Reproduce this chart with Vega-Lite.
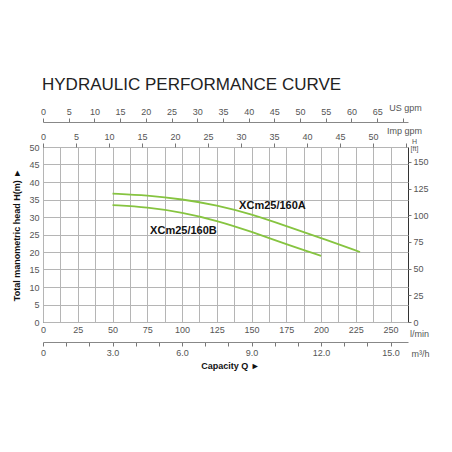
{
  "$schema": "https://vega.github.io/schema/vega-lite/v6.json",
  "width": 365,
  "height": 175,
  "autosize": "none",
  "padding": {"left": 43, "top": 147, "right": 44, "bottom": 130},
  "background": "white",
  "config": {
    "font": "Liberation Sans",
    "view": {"stroke": "#333", "strokeWidth": 1},
    "axis": {
      "labelFont": "Liberation Sans",
      "labelColor": "#555",
      "labelFontSize": 9,
      "labelFlush": false,
      "labelOverlap": false,
      "titleFont": "Liberation Sans",
      "titleFontSize": 9,
      "titleFontWeight": "normal",
      "titleColor": "#555",
      "tickColor": "#777",
      "domainColor": "#888",
      "gridColor": "#b5b5b5"
    }
  },
  "title": {
    "text": "HYDRAULIC PERFORMANCE CURVE",
    "anchor": "start",
    "frame": "group",
    "fontSize": 17,
    "fontWeight": "normal",
    "color": "#222",
    "offset": 9,
    "dx": -1
  },
  "datasets": {
    "curves": [
      {"model": "XCm25/160A", "q": 50, "h": 36.7},
      {"model": "XCm25/160A", "q": 75, "h": 36.2},
      {"model": "XCm25/160A", "q": 100, "h": 35.1},
      {"model": "XCm25/160A", "q": 125, "h": 33.4},
      {"model": "XCm25/160A", "q": 150, "h": 30.8},
      {"model": "XCm25/160A", "q": 175, "h": 27.4},
      {"model": "XCm25/160A", "q": 200, "h": 24.0},
      {"model": "XCm25/160A", "q": 228, "h": 20.0},
      {"model": "XCm25/160B", "q": 50, "h": 33.4},
      {"model": "XCm25/160B", "q": 75, "h": 32.8},
      {"model": "XCm25/160B", "q": 100, "h": 31.3},
      {"model": "XCm25/160B", "q": 125, "h": 29.0},
      {"model": "XCm25/160B", "q": 150, "h": 25.8},
      {"model": "XCm25/160B", "q": 175, "h": 22.2},
      {"model": "XCm25/160B", "q": 200, "h": 18.9}
    ],
    "labels": [
      {"q": 165, "h": 33.1, "label": "XCm25/160A"},
      {"q": 101, "h": 26.0, "label": "XCm25/160B"}
    ]
  },
  "layer": [
    {
      "data": {"name": "curves"},
      "mark": {"type": "line", "interpolate": "basis", "strokeWidth": 1.8},
      "encoding": {
        "x": {
          "field": "q",
          "type": "quantitative",
          "scale": {"domain": [0, 262.5], "nice": false, "zero": false},
          "axis": {
            "values": [0, 12.5, 25, 37.5, 50, 62.5, 75, 87.5, 100, 112.5, 125, 137.5, 150, 162.5, 175, 187.5, 200, 212.5, 225, 237.5, 250],
            "labelExpr": "datum.value % 25 == 0 ? datum.label : ''",
            "format": "d",
            "grid": true,
            "ticks": false,
            "domain": false,
            "labelPadding": 3,
            "title": "l/min",
            "titleAngle": 0,
            "titleAlign": "center",
            "titleBaseline": "middle",
            "titleX": 376,
            "titleY": 11
          }
        },
        "y": {
          "field": "h",
          "type": "quantitative",
          "scale": {"domain": [0, 50], "nice": false},
          "axis": {
            "values": [0, 5, 10, 15, 20, 25, 30, 35, 40, 45, 50],
            "grid": true,
            "ticks": false,
            "domain": false,
            "labelPadding": 4,
            "title": "Total manometric head H(m) ►",
            "titleFontWeight": "bold",
            "titleColor": "#111",
            "titlePadding": 7
          }
        },
        "detail": {"field": "model", "type": "nominal"},
        "color": {"value": "#86c440"}
      }
    },
    {
      "data": {"name": "labels"},
      "mark": {"type": "text", "fontWeight": "bold", "fontSize": 11, "color": "#111"},
      "encoding": {
        "x": {"field": "q", "type": "quantitative", "scale": {"domain": [0, 262.5], "nice": false, "zero": false}, "axis": null},
        "y": {"field": "h", "type": "quantitative", "scale": {"domain": [0, 50], "nice": false}, "axis": null},
        "text": {"field": "label", "type": "nominal"}
      }
    },
    {
      "data": {"values": [{"ft": 0}, {"ft": 150}]},
      "mark": {"type": "point", "opacity": 0},
      "encoding": {
        "y": {
          "field": "ft",
          "type": "quantitative",
          "scale": {"domain": [0, 164.04], "nice": false},
          "axis": {
            "orient": "right",
            "values": [0, 25, 50, 75, 100, 125, 150],
            "grid": false,
            "domain": false,
            "tickSize": 3,
            "labelPadding": 2,
            "title": ["H", "[ft]"],
            "titleAngle": 0,
            "titleFontSize": 7,
            "titleLineHeight": 7,
            "titleAlign": "center",
            "titleBaseline": "bottom",
            "titleX": 6,
            "titleY": -3
          }
        }
      }
    },
    {
      "data": {"values": [{"usgpm": 0}, {"usgpm": 70}]},
      "mark": {"type": "point", "opacity": 0},
      "encoding": {
        "x": {
          "field": "usgpm",
          "type": "quantitative",
          "scale": {"domain": [0, 71], "nice": false, "zero": false},
          "axis": {
            "orient": "top",
            "offset": 25,
            "values": [0, 5, 10, 15, 20, 25, 30, 35, 40, 45, 50, 55, 60, 65, 70],
            "labelExpr": "datum.value == 70 ? '' : datum.label",
            "grid": false,
            "tickSize": 4,
            "labelPadding": 2,
            "title": "US gpm",
            "titleAngle": 0,
            "titleAlign": "center",
            "titleBaseline": "middle",
            "titleX": 362,
            "titleY": -15
          }
        }
      }
    },
    {
      "data": {"values": [{"impgpm": 0}, {"impgpm": 55}]},
      "mark": {"type": "point", "opacity": 0},
      "encoding": {
        "x": {
          "field": "impgpm",
          "type": "quantitative",
          "scale": {"domain": [0, 55.3], "nice": false, "zero": false},
          "axis": {
            "orient": "top",
            "offset": 0,
            "values": [0, 5, 10, 15, 20, 25, 30, 35, 40, 45, 50, 55],
            "labelExpr": "datum.value == 55 ? '' : datum.label",
            "grid": false,
            "domain": false,
            "tickSize": 4,
            "labelPadding": 2,
            "title": "Imp gpm",
            "titleAngle": 0,
            "titleAlign": "center",
            "titleBaseline": "middle",
            "titleX": 361,
            "titleY": -17
          }
        }
      }
    },
    {
      "data": {"values": [{"m3h": 0}, {"m3h": 15}]},
      "mark": {"type": "point", "opacity": 0},
      "encoding": {
        "x": {
          "field": "m3h",
          "type": "quantitative",
          "scale": {"domain": [0, 15.75], "nice": false, "zero": false},
          "axis": {
            "orient": "bottom",
            "offset": 20,
            "values": [0, 1, 2, 3, 4, 5, 6, 7, 8, 9, 10, 11, 12, 13, 14, 15],
            "labelExpr": "datum.value == 0 ? '0' : (datum.value % 3 == 0 ? format(datum.value, '.1f') : '')",
            "grid": false,
            "tickSize": 4,
            "labelPadding": 2,
            "title": "m³/h",
            "titleAngle": 0,
            "titleAlign": "center",
            "titleBaseline": "middle",
            "titleX": 377,
            "titleY": 11
          }
        }
      }
    },
    {
      "data": {"values": [{"cap": 0}, {"cap": 1}]},
      "mark": {"type": "point", "opacity": 0},
      "encoding": {
        "x": {
          "field": "cap",
          "type": "quantitative",
          "scale": {"domain": [0, 1], "nice": false},
          "axis": {
            "orient": "bottom",
            "labels": false,
            "ticks": false,
            "domain": false,
            "grid": false,
            "title": "Capacity Q ►",
            "titleFontWeight": "bold",
            "titleColor": "#111",
            "titleAlign": "center",
            "titleBaseline": "middle",
            "titleX": 187,
            "titleY": 43
          }
        }
      }
    }
  ],
  "resolve": {
    "scale": {"x": "independent", "y": "independent"},
    "axis": {"x": "independent", "y": "independent"}
  }
}
